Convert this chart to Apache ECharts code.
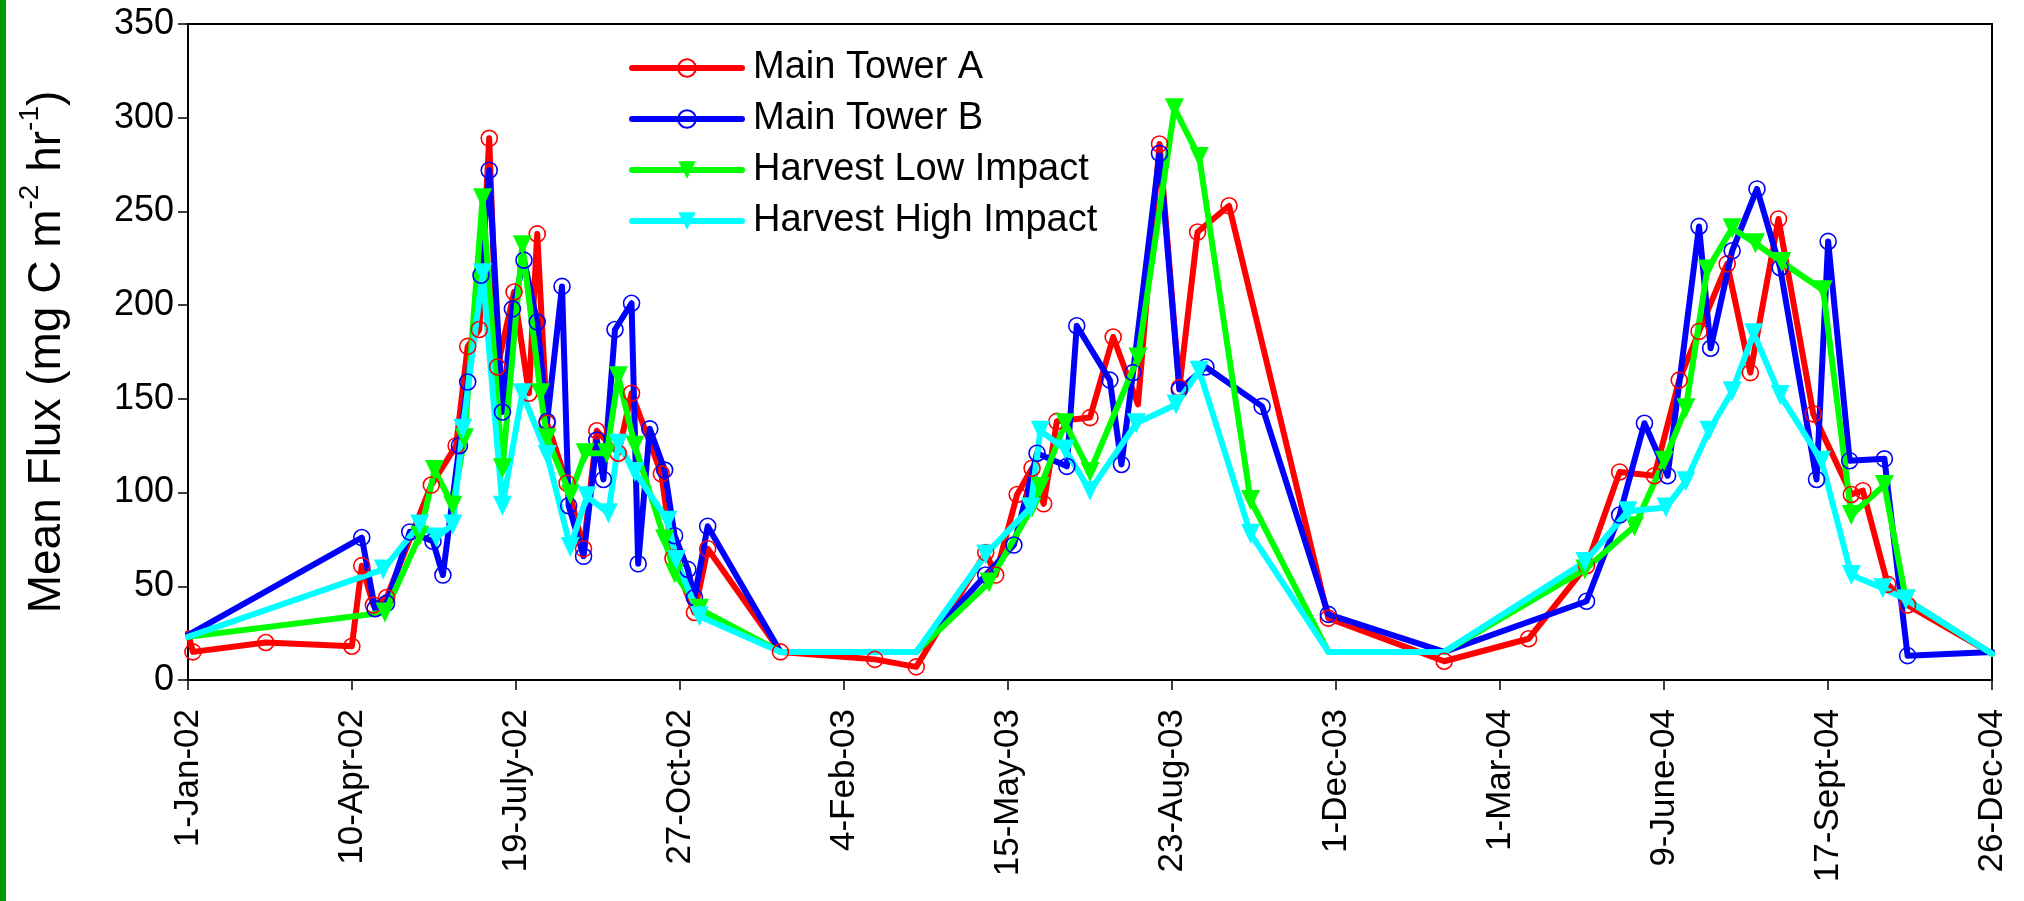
<!DOCTYPE html>
<html>
<head>
<meta charset="utf-8">
<script src="https://cdn.jsdelivr.net/npm/echarts@6/dist/echarts.min.js"></script>
<style>
  html, body { margin: 0; padding: 0; background: #ffffff; }
  #chart { width: 2024px; height: 901px; }
</style>
</head>
<body>
<div id="chart"></div>
<script>
// ---- Data (x = days since 1-Jan-2002, y = mean flux) ----
const xTickLabels = ['1-Jan-02', '10-Apr-02', '19-July-02', '27-Oct-02', '4-Feb-03', '15-May-03',
  '23-Aug-03', '1-Dec-03', '1-Mar-04', '9-June-04', '17-Sept-04', '26-Dec-04'];
const xSpanDays = 1090;

const towerADays = [0, 3, 47, 99, 105, 112, 120, 147, 162, 169, 176, 182, 187, 197, 206, 211, 217, 229, 239, 247,
  260, 268, 286, 293, 306, 314, 358, 415, 440, 482, 488, 501, 510, 517, 525, 545, 559, 574, 587, 599,
  610, 629, 689, 759, 810, 845, 865, 886, 901, 913, 930, 944, 961, 982, 1005, 1012, 1027, 1039, 1090];
const towerAValues = [25, 15, 20, 18, 61, 40, 44, 104, 125, 178, 187, 289, 167, 207, 153, 238, 137, 105, 70, 133,
  121, 153, 110, 65, 36, 70, 15, 11, 7, 68, 56, 99, 113, 94, 138, 140, 183, 147, 286, 156,
  239, 253, 33, 10, 22, 61, 111, 109, 160, 186, 222, 164, 246, 142, 99, 101, 51, 40, 14];

const towerBDays = [0, 105, 113, 120, 134, 148, 154, 164, 169, 177, 182, 190, 196, 203, 211, 217, 226, 230, 239, 247,
  251, 258, 268, 272, 279, 288, 294, 302, 306, 314, 358, 440, 482, 499, 513, 531, 537, 557, 564, 571,
  587, 599, 615, 649, 689, 759, 845, 865, 880, 894, 913, 920, 933, 948, 962, 984, 991, 1004, 1025, 1039, 1090];
const towerBValues = [24, 76, 38, 41, 79, 74, 56, 125, 159, 216, 272, 143, 198, 224, 191, 138, 210, 93, 66, 128,
  107, 187, 201, 62, 134, 112, 77, 59, 44, 82, 15, 15, 56, 72, 121, 114, 189, 160, 115, 164,
  281, 155, 167, 146, 35, 15, 42, 88, 137, 109, 242, 177, 229, 262, 220, 107, 234, 117, 118, 13, 15];

const lowImpactDays = [0, 119, 140, 149, 160, 167, 178, 190, 202, 213, 217, 231, 240, 253, 260, 270, 288, 294, 309, 358,
  440, 484, 510, 515, 530, 545, 574, 596, 611, 642, 689, 759, 844, 874, 892, 905, 918, 933, 947, 963,
  988, 1005, 1025, 1038, 1090];
const lowImpactValues = [23, 36, 77, 112, 93, 129, 257, 113, 232, 153, 129, 99, 121, 121, 162, 125, 75, 57, 38, 15,
  15, 52, 92, 103, 137, 111, 172, 305, 279, 96, 15, 15, 59, 82, 117, 145, 219, 241, 233, 223,
  208, 88, 104, 43, 14];

const highImpactDays = [0, 118, 140, 150, 160, 166, 178, 190, 202, 217, 231, 241, 254, 260, 270, 290, 295, 309, 358, 440,
  482, 509, 515, 530, 545, 573, 597, 611, 642, 689, 759, 844, 870, 893, 905, 919, 933, 946, 962, 987,
  1005, 1024, 1038, 1090];
const highImpactValues = [23, 59, 83, 76, 83, 134, 217, 93, 153, 120, 71, 98, 89, 126, 111, 85, 64, 34, 15, 15,
  67, 92, 133, 123, 101, 137, 147, 165, 78, 15, 15, 63, 90, 92, 106, 133, 154, 185, 152, 117,
  56, 49, 43, 14];

// points drawn without a marker (gap-filling / edge points)
const unmarkedA = [0, 574, 1090];
const unmarkedB = [0, 358, 440, 759, 1090];
const unmarkedLow = [0, 358, 440, 689, 759, 1090];
const unmarkedHigh = [0, 358, 440, 689, 759, 1090];

// ---- Chart ----
const FONT = "'Liberation Sans', Arial, Helvetica, sans-serif";
const TICK = xSpanDays / 11;
const pairs = (d, v) => d.map((x, i) => [x, v[i]]);

function makeSeries(name, days, values, color, marker, unmarked) {
  const isCircle = marker === 'circle';
  const size = isCircle ? 16 : [19, 20];
  return {
    name: name,
    type: 'line',
    data: pairs(days, values),
    symbol: isCircle ? 'circle' : 'triangle',
    symbolRotate: isCircle ? 0 : 180,
    symbolSize: function (val) { return unmarked.indexOf(val[0]) >= 0 ? 0 : size; },
    showAllSymbol: true,
    clip: false,
    lineStyle: { color: color, width: 6, join: 'round', cap: 'round' },
    itemStyle: isCircle
      ? { color: 'rgba(0,0,0,0)', borderColor: color, borderWidth: 1.6 }
      : { color: color, borderWidth: 0 },
    emphasis: { disabled: true },
    animation: false,
    z: 2
  };
}

const chart = echarts.init(document.getElementById('chart'), null, { renderer: 'canvas' });
chart.setOption({
  backgroundColor: '#ffffff',
  animation: false,
  grid: {
    left: 188, right: 32, top: 24, bottom: 221,
    show: true, borderColor: '#000', borderWidth: 2, backgroundColor: 'transparent'
  },
  graphic: [{
    type: 'rect', left: 0, top: 0, shape: { width: 6, height: 901 },
    style: { fill: '#009900' }, silent: true
  }],
  legend: {
    orient: 'vertical',
    left: 624, top: 43,
    itemWidth: 110, itemHeight: 22, itemGap: 11,
    lineStyle: { width: 6, cap: 'round' },
    textStyle: { fontSize: 38, fontFamily: FONT, color: '#000', lineHeight: 40, padding: [0, 0, 0, 6] },
    data: ['Main Tower A', 'Main Tower B', 'Harvest Low Impact', 'Harvest High Impact']
  },
  xAxis: {
    type: 'value',
    min: 0, max: xSpanDays, interval: TICK,
    axisLine: { show: true, onZero: false, lineStyle: { color: '#000', width: 2 } },
    axisTick: { show: true, inside: false, length: 10, lineStyle: { color: '#000', width: 1.5 } },
    splitLine: { show: false },
    axisLabel: {
      rotate: 90, margin: 29,
      fontSize: 35, fontFamily: FONT, color: '#000',
      formatter: function (v) {
        const i = Math.round(v / TICK);
        return xTickLabels[i] !== undefined ? xTickLabels[i] : '';
      },
      showMinLabel: true, showMaxLabel: true
    }
  },
  yAxis: {
    type: 'value',
    min: 0, max: 350, interval: 50,
    axisLine: { show: true, lineStyle: { color: '#000', width: 2 } },
    axisTick: { show: true, inside: false, length: 10, lineStyle: { color: '#000', width: 1.5 } },
    splitLine: { show: false },
    axisLabel: { fontSize: 36, fontFamily: FONT, color: '#000', margin: 14 },
    name: '{a|Mean Flux (mg C m}{s|-2}{a| hr}{s|-1}{a|)}',
    nameLocation: 'middle',
    nameRotate: 90,
    nameGap: 118,
    nameTextStyle: {
      rich: {
        a: { fontSize: 46, fontFamily: FONT, color: '#000', lineHeight: 54, verticalAlign: 'bottom' },
        s: { fontSize: 28, fontFamily: FONT, color: '#000', lineHeight: 30, verticalAlign: 'top' }
      }
    }
  },
  series: [
    makeSeries('Main Tower A', towerADays, towerAValues, '#ff0000', 'circle', unmarkedA),
    makeSeries('Main Tower B', towerBDays, towerBValues, '#0000ff', 'circle', unmarkedB),
    makeSeries('Harvest Low Impact', lowImpactDays, lowImpactValues, '#00ff00', 'triangle', unmarkedLow),
    makeSeries('Harvest High Impact', highImpactDays, highImpactValues, '#00ffff', 'triangle', unmarkedHigh)
  ]
});
</script>
</body>
</html>
